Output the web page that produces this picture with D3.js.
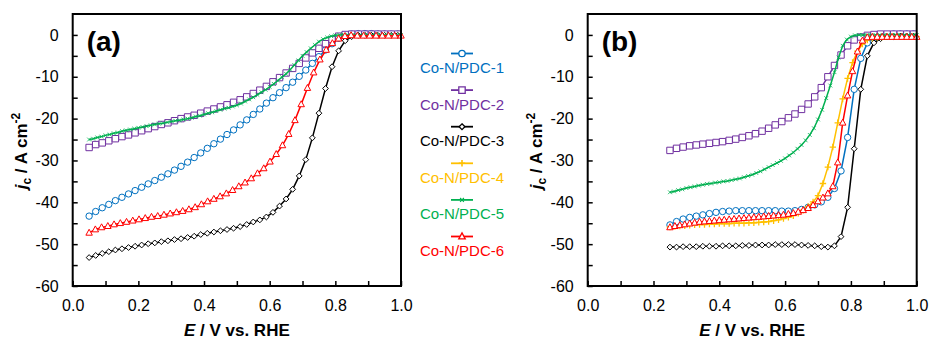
<!DOCTYPE html>
<html>
<head>
<meta charset="utf-8">
<script src="https://cdn.jsdelivr.net/npm/d3@7"></script>
<style>
body { margin: 0; background: #fff; }
</style>
</head>
<body>
<div id="chart"></div>
<script>
var xTickLabels = [0, 0.2, 0.4, 0.6, 0.8, 1.0];
var yTickLabels = [0, -10, -20, -30, -40, -50, -60];
var names = ["Co-N/PDC-1", "Co-N/PDC-2", "Co-N/PDC-3", "Co-N/PDC-4", "Co-N/PDC-5", "Co-N/PDC-6"];
var colors = ["#0070C0", "#7030A0", "#000000", "#FFC000", "#00B050", "#FF0000"];
var shapes = ["circle", "square", "diamond", "plus", "star", "triangle"];

// panel (a): E starts at 0.05 V
var blueA = [-43.3,-42.2,-41.3,-40.5,-39.6,-38.8,-38.0,-37.2,-36.4,-35.6,-34.8,-34.0,-33.2,-32.3,-31.4,-30.4,-29.3,-28.2,-27.1,-26.0,-24.9,-23.8,-22.7,-21.5,-20.3,-19.0,-17.7,-16.3,-15.0,-13.8,-12.6,-11.3,-9.9,-8.4,-6.8,-5.2,-3.6,-2.1,-0.8,-0.1,0.2,0.3,0.3,0.3,0.2,0.2,0.2,0.2];
var purpleA = [-26.9,-26.2,-25.8,-25.3,-24.8,-24.3,-23.9,-23.4,-22.9,-22.4,-21.9,-21.4,-21.0,-20.5,-20.0,-19.6,-19.2,-18.7,-18.2,-17.7,-17.2,-16.7,-16.1,-15.5,-14.8,-14.0,-13.2,-12.3,-11.2,-10.2,-9.1,-8.0,-6.8,-5.5,-4.3,-3.2,-2.1,-1.1,-0.3,0.1,0.2,0.2,0.2,0.2,0.2,0.2,0.2,0.2];
var blackA = [-53.2,-52.7,-52.2,-51.8,-51.4,-51.1,-50.8,-50.5,-50.2,-49.9,-49.7,-49.4,-49.2,-48.9,-48.7,-48.4,-48.1,-47.7,-47.4,-47.1,-46.8,-46.5,-46.2,-45.8,-45.3,-44.7,-44.2,-43.5,-42.4,-40.9,-39.2,-36.9,-33.7,-29.8,-24.6,-18.7,-12.8,-7.6,-3.8,-1.4,-0.4,-0.1,-0.1,-0.1,-0.1,-0.1,-0.1,-0.1];
var greenA = [-25.0,-24.8,-24.5,-24.3,-24.0,-23.8,-23.5,-23.3,-23.0,-22.8,
  -22.6,-22.4,-22.2,-22.0,-21.8,-21.6,-21.4,-21.2,-21.1,-20.9,
  -20.7,-20.5,-20.4,-20.2,-20.0,-19.8,-19.5,-19.3,-19.0,-18.7,
  -18.5,-18.2,-17.9,-17.6,-17.4,-17.1,-16.8,-16.4,-15.9,-15.4,
  -14.9,-14.3,-13.7,-13.1,-12.4,-11.7,-10.9,-10.1,-9.3,-8.3,
  -7.2,-6.1,-5.0,-4.1,-3.2,-2.4,-1.6,-1.0,-0.6,-0.3,
  -0.1,0.0,0.1,0.0,0.0,0.0,0.0,0.0,0.0,0.0,0.0,0.0,0.0,0.0,0.0,0.0,0.0];
var redA = [-47.3,-46.5,-46.0,-45.7,-45.3,-45.0,-44.7,-44.4,-44.1,-43.8,
  -43.5,-43.3,-43.0,-42.7,-42.4,-42.1,-41.7,-41.2,-40.5,-39.8,
  -39.2,-38.6,-37.9,-37.1,-36.2,-35.3,-34.3,-33.1,-31.9,-30.3,
  -28.5,-26.4,-23.7,-20.4,-16.6,-12.7,-9.0,-5.9,-3.6,-2.0,
  -0.9,-0.3,-0.1,-0.2,-0.2,-0.2,-0.2,-0.2,-0.2,-0.2,-0.2];

// panel (b): E starts at 0.25 V
var blueB = [-45.4,-44.6,-44.0,-43.6,-43.3,-43.0,-42.7,-42.4,-42.2,-42.1,-42.0,-42.0,-42.0,-42.0,-42.0,-42.0,-42.0,-42.1,-42.1,-42.0,-41.7,-41.2,-40.6,-39.9,-38.8,-36.7,-32.5,-24.5,-13.0,-5.6,-1.9,-0.8,-0.3,0.0,0.2,0.2,0.2,0.2];
var purpleB = [-27.6,-27.1,-26.8,-26.5,-26.3,-26.1,-25.9,-25.7,-25.5,-25.2,-24.9,-24.5,-24.1,-23.6,-23.0,-22.3,-21.5,-20.7,-19.8,-18.9,-17.8,-16.5,-14.8,-12.6,-10.0,-7.3,-4.8,-2.6,-1.2,-0.5,-0.1,0.1,0.2,0.2,0.2,0.2,0.2,0.2];
var blackB = [-50.7,-50.7,-50.6,-50.6,-50.6,-50.5,-50.5,-50.5,-50.4,-50.4,-50.4,-50.3,-50.3,-50.2,-50.2,-50.2,-50.1,-50.1,-50.1,-50.1,-50.2,-50.3,-50.4,-50.6,-50.7,-50.4,-48.2,-41.2,-27.2,-13.0,-5.0,-1.9,-0.9,-0.5,-0.4,-0.3,-0.3,-0.3];
var orangeB = [-45.9,-45.8,-45.7,-45.6,-45.5,-45.4,-45.3,-45.3,-45.2,-45.2,
  -45.1,-45.1,-45.1,-45.0,-45.0,-45.0,-44.9,-44.9,-44.8,-44.7,
  -44.6,-44.4,-44.2,-43.9,-43.6,-43.2,-42.6,-41.9,-41.0,-39.9,
  -38.4,-35.5,-31.6,-26.8,-21.0,-15.3,-10.4,-6.6,-3.9,-2.2,
  -1.2,-0.8,-0.6,-0.5,-0.4,-0.4,-0.4,-0.4,-0.4,-0.4,-0.4];
var greenB = [-37.6,-37.4,-37.1,-36.9,-36.6,-36.4,-36.2,-36.0,-35.8,-35.6,
  -35.5,-35.3,-35.2,-35.0,-34.9,-34.7,-34.5,-34.3,-34.0,-33.7,
  -33.4,-33.0,-32.6,-32.1,-31.6,-31.1,-30.6,-30.1,-29.5,-28.8,
  -28.1,-27.2,-26.3,-25.2,-23.9,-22.3,-20.2,-17.9,-15.1,-12.1,
  -8.9,-5.4,-2.6,-1.1,-0.4,-0.1,0.0,0.0,0.0,0.0,0.0,0.0,0.0,0.0,0.0,0.0,0.0,0.0,0.0,0.0,0.0];
var redB = [-46.0,-45.7,-45.5,-45.3,-45.1,-44.9,-44.7,-44.6,-44.5,-44.4,
  -44.3,-44.2,-44.1,-44.0,-43.9,-43.8,-43.7,-43.6,-43.5,-43.4,
  -43.3,-43.2,-43.1,-43.0,-42.8,-42.6,-42.3,-41.9,-41.4,-40.7,
  -39.8,-38.9,-37.9,-36.2,-30.5,-21.0,-14.5,-8.7,-4.0,-1.4,
  -0.6,-0.5,-0.5,-0.5,-0.5,-0.5,-0.5,-0.5,-0.5,-0.5,-0.5];

// k = legend index, x0 = first potential, dx = potential step
var panelA = [
    {k: 0, x0: 0.05, dx: 0.02, v: blueA},
    {k: 1, x0: 0.05, dx: 0.02, v: purpleA},
    {k: 2, x0: 0.05, dx: 0.02, v: blackA},
    {k: 4, x0: 0.05, dx: 0.0125, v: greenA},
    {k: 5, x0: 0.05, dx: 0.019, v: redA}
];
var panelB = [
    {k: 0, x0: 0.25, dx: 0.02, v: blueB},
    {k: 1, x0: 0.25, dx: 0.02, v: purpleB},
    {k: 2, x0: 0.25, dx: 0.02, v: blackB},
    {k: 3, x0: 0.25, dx: 0.015, v: orangeB},
    {k: 4, x0: 0.25, dx: 0.0125, v: greenB},
    {k: 5, x0: 0.25, dx: 0.015, v: redB}
];

var FONT = "'Liberation Sans', Arial, sans-serif";

function markerPath(shape) {
    var r;
    switch (shape) {
        case "circle": r = 3.2;
            return "M" + r + ",0A" + r + "," + r + " 0 1 1 " + (-r) + ",0A" + r + "," + r + " 0 1 1 " + r + ",0Z";
        case "square": r = 3.2;
            return "M" + (-r) + "," + (-r) + "h" + 2 * r + "v" + 2 * r + "h" + (-2 * r) + "Z";
        case "diamond": r = 2.9;
            return "M0," + (-r) + "L" + r + ",0L0," + r + "L" + (-r) + ",0Z";
        case "triangle": r = 3.6;
            return "M0," + (-r) + "L" + (r * 0.9) + "," + (r * 0.65) + "L" + (-r * 0.9) + "," + (r * 0.65) + "Z";
        case "plus": r = 3.2;
            return "M" + (-r) + ",0H" + r + "M0," + (-r) + "V" + r;
        case "star": r = 1.9;
            return "M" + (-r) + "," + (-r) + "L" + r + "," + r + "M" + r + "," + (-r) + "L" + (-r) + "," + r;
    }
}

function strokeFor(shape) {
    if (shape == "plus") return 1.3;
    if (shape == "star") return 0.8;
    return 1;
}

function init() {
    var w = 930, h = 340;
    var top = 14, bottom = 286;
    var svg = d3.select("#chart")
        .append("svg")
        .attr("width", w)
        .attr("height", h);

    var y = d3.scaleLinear().domain([-60, 5]).range([bottom, top]);

    drawPanel(svg, y, 72.7, 401, "(a)", panelA, 27);
    drawPanel(svg, y, 587.7, 916.7, "(b)", panelB, 542);

    //Legend
    var lg = svg.append("g");
    names.forEach(function(n, k) {
        var ly = 53.5 + k * 36.6;
        lg.append("line")
            .attr("x1", 451).attr("x2", 473)
            .attr("y1", ly).attr("y2", ly)
            .attr("stroke", colors[k])
            .attr("stroke-width", 1.8);
        lg.append("path")
            .attr("d", markerPath(shapes[k]))
            .attr("transform", "translate(462," + ly + ")")
            .attr("fill", "#fff")
            .attr("stroke", colors[k])
            .attr("stroke-width", strokeFor(shapes[k]) + 0.3);
        lg.append("text")
            .attr("x", 462)
            .attr("y", ly + 19.5)
            .attr("text-anchor", "middle")
            .style("font-family", FONT)
            .style("font-size", "15px")
            .style("fill", colors[k])
            .text(n);
    });
}

function drawPanel(svg, y, left, right, label, series, ylabX) {
    var top = y.range()[1], bottom = y.range()[0];
    var x = d3.scaleLinear().domain([0, 1]).range([left, right]);
    var g = svg.append("g");

    //Axes (ticks point inwards)
    var yAxis = d3.axisLeft(y)
        .tickValues(d3.range(-60, 5, 5))
        .tickSize(-5)
        .tickPadding(14)
        .tickFormat(function(d) { return (d % 10 === 0 && yTickLabels.indexOf(d) >= 0) ? String(d) : ""; });
    var xAxis = d3.axisBottom(x)
        .tickValues(d3.range(0, 11).map(function(i) { return i / 10; }))
        .tickSize(-5)
        .tickPadding(14)
        .tickFormat(function(d) {
            var hit = xTickLabels.some(function(t) { return Math.abs(t - d) < 1e-6; });
            return hit ? d.toFixed(1) : "";
        });

    var gy = g.append("g").attr("transform", "translate(" + left + ",0)").call(yAxis);
    var gx = g.append("g").attr("transform", "translate(0," + bottom + ")").call(xAxis);
    [gx, gy].forEach(function(a) {
        a.select(".domain").remove();
        a.selectAll("line").attr("stroke", "#000").attr("stroke-width", 1.5);
        a.selectAll("text")
            .style("font-family", FONT)
            .style("font-size", "16px")
            .attr("fill", "#000");
    });

    //Series
    var line = d3.line()
        .x(function(d) { return x(d[0]); })
        .y(function(d) { return y(d[1]); });
    series.forEach(function(s) {
        var pts = s.v.map(function(v, i) { return [s.x0 + i * s.dx, v]; });
        g.append("path")
            .datum(pts)
            .attr("d", line)
            .attr("fill", "none")
            .attr("stroke", colors[s.k])
            .attr("stroke-width", 1.5);
        g.selectAll(null)
            .data(pts)
            .enter()
            .append("path")
            .attr("d", markerPath(shapes[s.k]))
            .attr("transform", function(d) { return "translate(" + x(d[0]) + "," + y(d[1]) + ")"; })
            .attr("fill", "#fff")
            .attr("stroke", colors[s.k])
            .attr("stroke-width", strokeFor(shapes[s.k]));
    });

    //Frame
    g.append("rect")
        .attr("x", left).attr("y", top)
        .attr("width", right - left).attr("height", bottom - top)
        .attr("fill", "none")
        .attr("stroke", "#000")
        .attr("stroke-width", 2);

    //Panel label
    g.append("text")
        .attr("x", left + 14)
        .attr("y", 51)
        .style("font-family", FONT)
        .style("font-weight", "bold")
        .style("font-size", "28px")
        .text(label);

    //Axis titles
    var xt = g.append("text")
        .attr("x", (left + right) / 2)
        .attr("y", 336)
        .attr("text-anchor", "middle")
        .style("font-family", FONT)
        .style("font-weight", "bold")
        .style("font-size", "17px");
    xt.append("tspan").style("font-style", "italic").text("E");
    xt.append("tspan").text(" / V vs. RHE");

    var yt = g.append("text")
        .attr("transform", "translate(" + ylabX + ",151) rotate(-90)")
        .attr("text-anchor", "middle")
        .style("font-family", FONT)
        .style("font-weight", "bold")
        .style("font-size", "17px");
    yt.append("tspan").style("font-style", "italic").text("j");
    yt.append("tspan").attr("dy", 4).style("font-size", "12px").text("c");
    yt.append("tspan").attr("dy", -4).text(" / A cm");
    yt.append("tspan").attr("dy", -7).style("font-size", "12px").text("-2");
}

window.onload = init;
</script>
</body>
</html>
